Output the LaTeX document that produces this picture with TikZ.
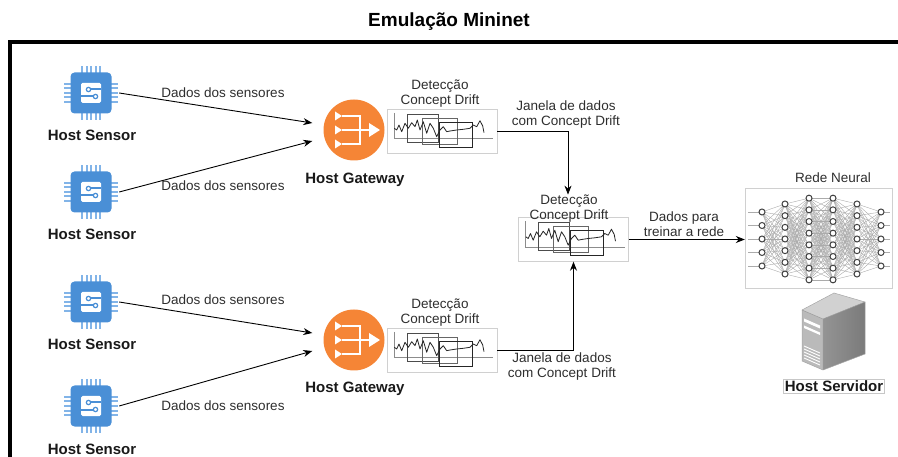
\documentclass[tikz,border=0pt]{standalone}
\usepackage{fontspec}
\setmainfont{Liberation Sans}
\usetikzlibrary{arrows.meta,calc}

\definecolor{chipblue}{HTML}{4A8FD6}
\definecolor{pinblue}{HTML}{82B4E8}
\definecolor{gworange}{HTML}{F58536}
\definecolor{framegray}{HTML}{D0D0D0}
\definecolor{inkgray}{HTML}{2E2E2E}

\tikzset{
  txt/.style={font=\fontsize{13.5}{15}\selectfont, text=inkgray, align=center, inner sep=0pt},
  hostname/.style={font=\bfseries\fontsize{15}{17}\selectfont, text=black!90, inner sep=0pt},
  conn/.style={draw=black, line width=0.9pt, -{Stealth[length=9pt,width=7pt]}},
  chartbox/.style={draw=framegray, fill=white, minimum width=110pt, minimum height=44pt, inner sep=0pt},
  chipholder/.style={minimum size=56pt, inner sep=0pt},
  gwnode/.style={circle, fill=gworange, minimum size=61pt, inner sep=0pt},
  nnedge/.style={draw=black!33, line width=0.4pt},
  nnnode/.style={circle, draw=black!75, fill=white, line width=1pt, minimum size=6pt, inner sep=0pt},
  % IoT sensor chip
  chip/.pic={
    \foreach \t in {-9,-4.5,0,4.5,9}{
      \fill[pinblue] (\t-1,-27) rectangle (\t+1,-19);
      \fill[pinblue] (\t-1,19) rectangle (\t+1,27);
      \fill[pinblue] (-27,\t-1) rectangle (-19,\t+1);
      \fill[pinblue] (19,\t-1) rectangle (27,\t+1);
    }
    \fill[chipblue, rounded corners=4pt] (-20.5,-20.5) rectangle (20.5,20.5);
    \fill[white, rounded corners=1.5pt] (-10,-10) rectangle (10,10);
    \draw[chipblue, line width=2pt] (10.1,-3.5) -- (-1,-3.5);
    \draw[chipblue, line width=2pt] (-10.1,3.5) -- (3,3.5);
    \filldraw[fill=white, draw=chipblue, line width=1.2pt] (-2.5,-3.5) circle (2.2);
    \filldraw[fill=white, draw=chipblue, line width=1.2pt] (4.5,3.5) circle (2.2);
  },
  % gateway glyph inside the orange disc
  gwicon/.pic={
    \foreach \yy in {-14,0,14}{
      \fill[white] (-19,\yy-4.5) -- (-12,\yy) -- (-19,\yy+4.5) -- cycle;
    }
    \draw[white, line width=2.2pt] (-12,-14) -- (6,-14) -- (6,14) -- (-12,14);
    \draw[white, line width=2.2pt] (-12,0) -- (17,0);
    \fill[white] (15,-7) -- (26,0) -- (15,7) -- cycle;
  },
  % drift detection chart with sliding windows
  driftchart/.pic={
    \draw[black!45, line width=1pt] (-48,-18) -- (-48,8) -- (51,8);
    \draw[black!70, line width=0.8pt] (-35,-17) rectangle (-4,11);
    \draw[black!60, line width=0.8pt] (-20,-13) rectangle (15,13);
    \draw[black!85, line width=0.9pt] (-3,-9) rectangle (30,16);
    \draw[black!85, line width=0.8pt, line join=round]
      (-47.7,-2.7) -- (-45.3,-1) -- (-43,-6) -- (-40.3,0.7) -- (-37,-7.7) -- (-33.7,-2.7)
      -- (-30.3,-8.3) -- (-27,-4.3) -- (-24.7,-11) -- (-22,-1) -- (-18.7,-9.3) -- (-15.3,2.3)
      -- (-12,-7.7) -- (-8.7,-2.7) -- (-5.3,5.7) -- (-2,-1) -- (1.3,-4.3) -- (4.7,0.7)
      -- (8,0) -- (14.7,-1) -- (21.3,-1.7) -- (28,-2.7) -- (31.3,-6) -- (34.7,-4.3)
      -- (38,-10.3) -- (40.7,-5) -- (42,1.7);
  },
}

\begin{document}
\begin{tikzpicture}[x=1pt,y=-1pt]
\useasboundingbox (0,0) rectangle (898,457);

% title and frame
\node[font=\bfseries\fontsize{19}{21}\selectfont, inner sep=0pt, anchor=base] (title) at (449,26.8) {Emulação Mininet};
\draw[line width=4pt, line join=miter] (10,480) -- (10,42) -- (910,42);

% sensors
\foreach \n/\yy/\ly in {1/93/141, 2/192/240, 3/302/350, 4/406/454.5}{
  \node[chipholder] (s\n) at (91,\yy) {};
  \pic at (s\n.center) {chip};
  \node[hostname, anchor=base] (s\n lab) at (92,\ly) {Host Sensor};
}

% gateways
\node[gwnode] (g1) at (354,130) {};
\pic at (g1.center) {gwicon};
\node[hostname, anchor=base] (g1lab) at (355,183.5) {Host Gateway};
\node[gwnode] (g2) at (354,340) {};
\pic at (g2.center) {gwicon};
\node[hostname, anchor=base] (g2lab) at (355,392.5) {Host Gateway};

\coordinate (g1a) at ($(g1.west)+(-11,-7)$);
\coordinate (g1b) at ($(g1.west)+(-11,11)$);
\coordinate (g2a) at ($(g2.west)+(-11,-7)$);
\coordinate (g2b) at ($(g2.west)+(-11,11)$);

\draw[conn] (s1.east) -- (g1a);
\draw[conn] (s2.east) -- (g1b);
\draw[conn] (s3.east) -- (g2a);
\draw[conn] (s4.east) -- (g2b);

\node[txt, anchor=base] (e1) at (223,98) {Dados dos sensores};
\node[txt, anchor=base] (e2) at (223,191) {Dados dos sensores};
\node[txt, anchor=base] (e3) at (223,305) {Dados dos sensores};
\node[txt, anchor=base] (e4) at (223,410) {Dados dos sensores};

% drift detectors
\node[chartbox] (b1) at (442,131) {};
\pic at (b1.center) {driftchart};
\node[txt, anchor=south] (d1lab) at (440,108) {Detecção\\Concept Drift};

\node[chartbox] (b2) at (442,350) {};
\pic at (b2.center) {driftchart};
\node[txt, anchor=south] (d2lab) at (440,327) {Detecção\\Concept Drift};

\node[chartbox] (b3) at (573.5,239.5) {};
\pic at (b3.center) {driftchart};
\node[txt, anchor=south] (d3lab) at (569,222.5) {Detecção\\Concept Drift};

\draw[conn] (b1.east) -| ([xshift=-1pt]d3lab.north);
\draw[conn] (b2.east) -| (b3.south);
\node[txt, anchor=south] (j1) at (566,129) {Janela de dados\\com Concept Drift};
\node[txt, anchor=south] (j2) at (562,381) {Janela de dados\\com Concept Drift};

% neural network
\node[draw=framegray, fill=white, minimum width=147pt, minimum height=100pt, inner sep=0pt] (nnbox) at (818.5,238) {};
\node[txt, anchor=base] (nnlab) at (833,183) {Rede Neural};

\foreach \lx/\n/\s [count=\i] in {762/5/13.5, 785/7/11.67, 809/8/11.67, 833/8/11.67, 857/7/11.67, 881/5/13.5}{
  \foreach \k in {1,...,\n}{
    \coordinate (c\i-\k) at (\lx,{239+(\k-(\n+1)/2)*\s});
  }
}
\foreach \i/\n/\m in {1/5/7, 2/7/8, 3/8/8, 4/8/7, 5/7/5}{
  \pgfmathtruncatemacro\j{\i+1}
  \foreach \k in {1,...,\n}{
    \foreach \l in {1,...,\m}{
      \draw[nnedge] (c\i-\k) -- (c\j-\l);
    }
  }
}
\foreach \k in {1,...,5}{
  \draw[nnedge] (c1-\k) -- ++(-14,0);
  \draw[nnedge] (c6-\k) -- ++(9,0);
}
\foreach \i/\n in {1/5, 2/7, 3/8, 4/8, 5/7, 6/5}{
  \foreach \k in {1,...,\n}{
    \node[nnnode] (n\i-\k) at (c\i-\k) {};
  }
}

\draw[conn] (b3.east) -- (b3.east -| nnbox.west);
\node[txt, anchor=south] (tr) at (684,236.5) {Dados para\\treinar a rede};

% server tower
\coordinate (A) at (802,310);
\coordinate (B) at (834,293);
\coordinate (C) at (865,302);
\coordinate (D) at (823,319);
\coordinate (E) at (823,370);
\coordinate (F) at (802,361);
\coordinate (G) at (865,354);
\fill[black!18] (A) -- (B) -- (C) -- (D) -- cycle;
\fill[black!27] (A) -- (D) -- (E) -- (F) -- cycle;
\shade[left color=black!42, right color=black!52] (D) -- (C) -- (G) -- (E) -- cycle;
\draw[black!35, line width=0.5pt] (A) -- (B) -- (C) -- (G) -- (E) -- (F) -- cycle;
\draw[black!40, line width=0.5pt] (A) -- (D) -- (C) (D) -- (E);
\fill[white] (804,318.5) -- (820,325.5) -- (820,328.5) -- (804,321.5) -- cycle;
\fill[white] (804,325.5) -- (820,332.5) -- (820,335) -- (804,328) -- cycle;
\foreach \o in {0,3,6,9,12}{
  \draw[white, line width=0.9pt] (804,346+\o) -- (820,353+\o);
}
\node[hostname, anchor=base, draw=black!22, line width=0.5pt, inner sep=1.5pt] (srv) at (834,391.5) {Host Servidor};

\end{tikzpicture}
\end{document}
